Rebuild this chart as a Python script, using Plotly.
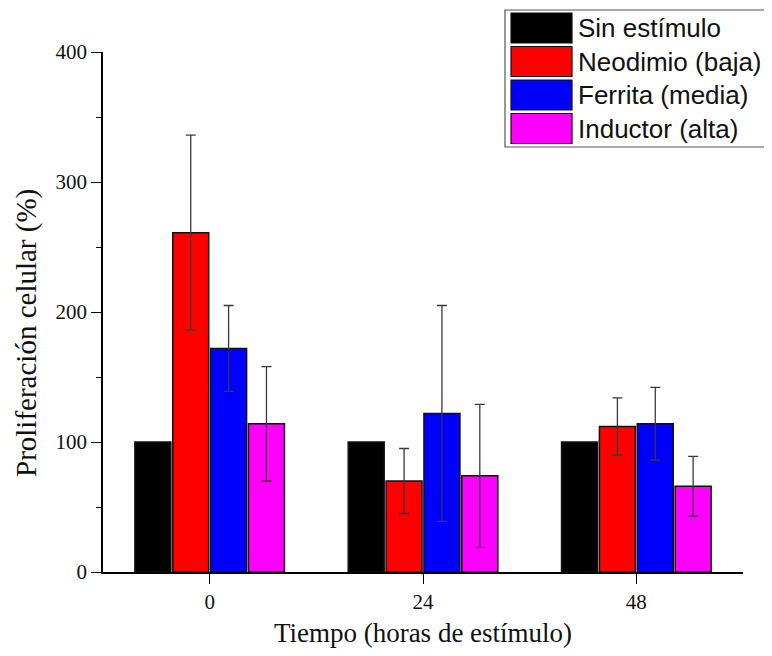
import plotly.graph_objects as go

# data
tiempos = ["0", "24", "48"]
grupos = ["Sin estímulo", "Neodimio (baja)", "Ferrita (media)", "Inductor (alta)"]
colores = ["#000000", "#ff0000", "#0000ff", "#ff00ff"]

sin_estimulo = [100, 100, 100]
neodimio = [261, 70, 112]
ferrita = [172, 122, 114]
inductor = [114, 74, 66]

err_sin = [0, 0, 0]
err_neodimio = [75, 25, 22]
err_ferrita = [33, 83, 28]
err_inductor = [44, 55, 23]

valores = [sin_estimulo, neodimio, ferrita, inductor]
errores = [err_sin, err_neodimio, err_ferrita, err_inductor]

# the page body adds 8px around the figure, so the figure is a bit smaller
W, H = 756, 640
L, R, T, B = 95, 21, 44, 76
serif = "Liberation Serif, Times New Roman, serif"
sans = "Liberation Sans, Arial, sans-serif"

fig = go.Figure()
for nombre, col, val, err in zip(grupos, colores, valores, errores):
    fig.add_trace(go.Bar(
        x=tiempos, y=val, name=nombre,
        marker=dict(color=col, line=dict(color="#111111", width=1.5)),
        error_y=dict(type="data", array=err, visible=any(err),
                     color="#3a3a3a", thickness=1.3, width=5),
        showlegend=False,
    ))

# helper: screen pixel -> paper coordinates (plot area 103..743 x 52..572)
def px(x):
    return (x - 103) / 640

def py(y):
    return (572 - y) / 520

# hand drawn legend box with big swatches
shapes = [dict(type="rect", xref="paper", yref="paper",
               x0=px(505), x1=px(790), y0=py(147), y1=py(10),
               line=dict(color="#555555", width=1.2), fillcolor="white", layer="above")]
annotations = []
for i, (nombre, col) in enumerate(zip(grupos, colores)):
    top = 13 + i * 33.5
    shapes.append(dict(type="rect", xref="paper", yref="paper",
                       x0=px(511), x1=px(572), y0=py(top + 30), y1=py(top),
                       line=dict(color="#111111", width=1.2), fillcolor=col, layer="above"))
    annotations.append(dict(xref="paper", yref="paper", x=px(576), y=py(top + 15),
                            text=nombre, showarrow=False, xanchor="left", yanchor="middle",
                            font=dict(family=sans, size=26, color="#111111")))

# y title sits a little below the middle of the axis in the original
annotations.append(dict(xref="paper", yref="paper", x=px(26), y=py(333),
                        text="Proliferación celular (%)", textangle=-90, showarrow=False,
                        xanchor="center", yanchor="middle",
                        font=dict(family=serif, size=29, color="#111111")))

fig.update_layout(
    width=W, height=H,
    margin=dict(l=L, r=R, t=T, b=B),
    plot_bgcolor="white", paper_bgcolor="white",
    barmode="group", bargap=0.29, bargroupgap=0.05,
    shapes=shapes, annotations=annotations,
    xaxis=dict(
        type="category", range=[-0.5, 2.5], automargin=False,
        showline=True, linecolor="black", linewidth=1.5,
        ticks="outside", ticklen=10, tickcolor="black",
        tickfont=dict(family=serif, size=21, color="#111111"),
        title=dict(text="Tiempo (horas de estímulo)", standoff=25,
                   font=dict(family=serif, size=27, color="#111111")),
        showgrid=False,
    ),
    yaxis=dict(
        range=[0, 400], dtick=100, automargin=False,
        showline=True, linecolor="black", linewidth=1.5,
        ticks="outside", ticklen=10, tickcolor="black",
        minor=dict(dtick=50, ticks="outside", ticklen=5, tickcolor="black", showgrid=False),
        tickfont=dict(family=serif, size=21, color="#111111"),
        showgrid=False, zeroline=False,
    ),
)

fig.write_html("out.html")
